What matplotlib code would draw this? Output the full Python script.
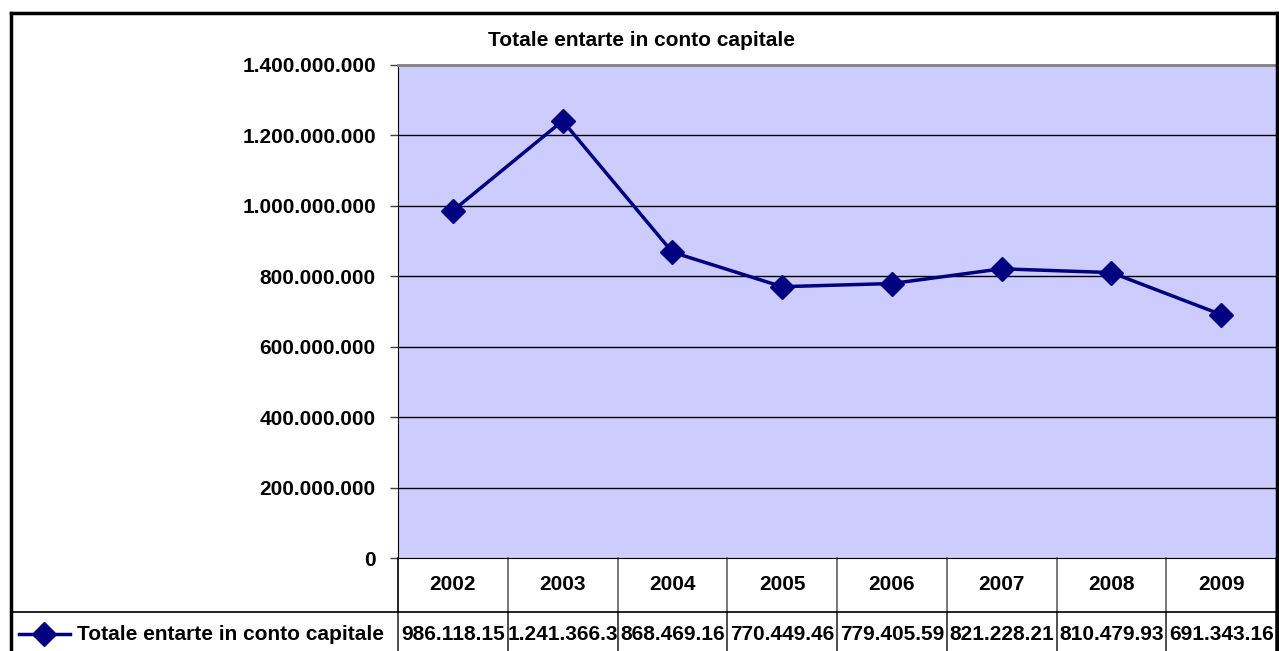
import matplotlib
matplotlib.use('Agg')
import matplotlib.pyplot as plt
from matplotlib.lines import Line2D

plt.rcParams['font.family'] = ['Liberation Sans', 'DejaVu Sans']
plt.rcParams['font.weight'] = 'bold'

# dati
anni = ['2002', '2003', '2004', '2005', '2006', '2007', '2008', '2009']
valori = [986118150, 1241366300, 868469160, 770449460, 779405590, 821228210, 810479930, 691343160]
etichette_tabella = ['986.118.15', '1.241.366.3', '868.469.16', '770.449.46',
                     '779.405.59', '821.228.21', '810.479.93', '691.343.16']
serie = 'Totale entarte in conto capitale'
titolo = 'Totale entarte in conto capitale'
y_ticks = [0, 200000000, 400000000, 600000000, 800000000, 1000000000, 1200000000, 1400000000]

W, H = 1279, 651
fig = plt.figure(figsize=(W / 100, H / 100), dpi=100)

# area del grafico (pixel)
x0, x1, y_top, y_bot = 398, 1276, 65, 558
ax = fig.add_axes([x0 / W, 1 - y_bot / H, (x1 - x0) / W, (y_bot - y_top) / H])
ax.set_facecolor('#CCCCFF')
ax.set_xlim(-0.5, len(anni) - 0.5)
ax.set_ylim(0, 1400000000)

for v in y_ticks[1:-1]:
    ax.axhline(v, color='black', lw=1, zorder=1)

ax.plot(range(len(anni)), valori, color='#000080', lw=2.5, marker='D',
        markersize=12, zorder=3)

ax.set_yticks(y_ticks)
ax.set_yticklabels([f'{v:,.0f}'.replace(',', '.') for v in y_ticks],
                   fontsize=15, fontweight='bold')
ax.tick_params(axis='y', length=6, width=1, color='#404040', pad=10)
ax.set_xticks([])

ax.spines['left'].set_color('black')
ax.spines['bottom'].set_color('black')
ax.spines['top'].set_color('#808080')
ax.spines['top'].set_linewidth(2)
ax.spines['right'].set_visible(False)

# tabella dati sotto il grafico
px = 1.0 / (y_bot - y_top)  # frazione assi per pixel verticale
riga1 = -(612 - y_bot) * px
fondo = -(700 - y_bot) * px
for i in range(len(anni) + 1):
    xb = i - 0.5
    col = 'black' if i == 0 else '#606060'
    ax.plot([xb, xb], [0, riga1], transform=ax.get_xaxis_transform(),
            color=col, lw=1.2, clip_on=False)
    ax.plot([xb, xb], [riga1, fondo], transform=ax.get_xaxis_transform(),
            color='#303030', lw=1.2, clip_on=False)

for i, (a, lab) in enumerate(zip(anni, etichette_tabella)):
    ax.text(i, -(585 - y_bot) * px, a, transform=ax.get_xaxis_transform(),
            ha='center', va='center', fontsize=15, fontweight='bold')
    ax.text(i, -(634 - y_bot) * px, lab, transform=ax.get_xaxis_transform(),
            ha='center', va='center', fontsize=15, fontweight='bold')

# linea orizzontale tra le righe e cornice esterna (coordinate figura)
fig.add_artist(Line2D([11 / W, 1277 / W], [1 - 612 / H, 1 - 612 / H],
                      color='black', lw=1.2))
bordo = dict(color='black', lw=2.5, solid_capstyle='projecting')
fig.add_artist(Line2D([11 / W, 11 / W], [0, 1 - 13 / H], **bordo))
fig.add_artist(Line2D([11 / W, 1277 / W], [1 - 13 / H, 1 - 13 / H], **bordo))
fig.add_artist(Line2D([1277 / W, 1277 / W], [0, 1 - 13 / H], **bordo))

# legenda nella tabella
fig.add_artist(Line2D([19 / W, 70 / W], [1 - 634 / H, 1 - 634 / H],
                      color='#000080', lw=2.5))
fig.add_artist(Line2D([44 / W], [1 - 634 / H], color='#000080', marker='D',
                      markersize=12, lw=0))
fig.text(77 / W, 1 - 634 / H, serie, ha='left', va='center',
         fontsize=15, fontweight='bold')

fig.text(642 / W, 1 - 41 / H, titolo, ha='center', va='center',
         fontsize=15, fontweight='bold')

plt.savefig('out.png', dpi=100)
